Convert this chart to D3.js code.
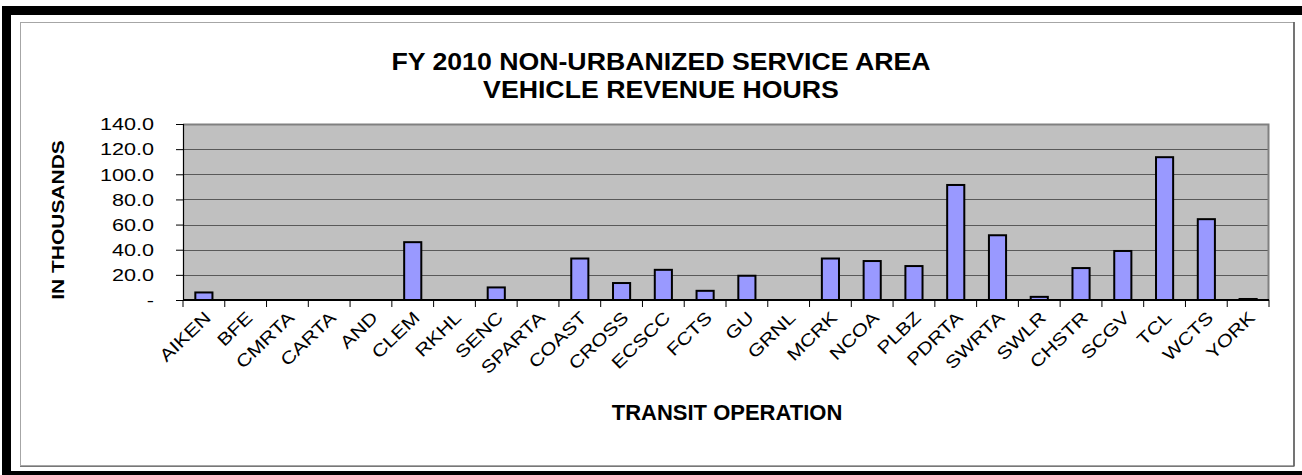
<!DOCTYPE html>
<html>
<head>
<meta charset="utf-8">
<script src="https://cdn.jsdelivr.net/npm/d3@7"></script>
<style>
  html, body { margin: 0; padding: 0; background: #fff; }
  svg { display: block; }
  text { font-family: "Liberation Sans", Arial, sans-serif; fill: #000; }
</style>
</head>
<body>
<svg id="chart" width="1302" height="475"></svg>
<script>
// ---- data ----
const categories = ["AIKEN","BFE","CMRTA","CARTA","AND","CLEM","RKHL","SENC","SPARTA","COAST",
  "CROSS","ECSCC","FCTS","GU","GRNL","MCRK","NCOA","PLBZ","PDRTA","SWRTA","SWLR","CHSTR",
  "SCGV","TCL","WCTS","YORK"];
const values = [6.0, 0, 0, 0, 0, 46.0, 0, 10.0, 0, 33.0,
  13.5, 24.0, 7.3, 19.3, 0, 33.0, 31.0, 27.0, 91.5, 51.5, 2.5, 25.4,
  39.0, 113.6, 64.3, 0.8];
const yTicks = [0, 20, 40, 60, 80, 100, 120, 140];
const titleLines = ["FY 2010 NON-URBANIZED SERVICE AREA", "VEHICLE REVENUE HOURS"];
const xTitle = "TRANSIT OPERATION";
const yTitle = "IN THOUSANDS";

// ---- layout ----
const W = 1302, H = 475;
const plot = { left: 183, right: 1269, top: 124, bottom: 300 };

const svg = d3.select("#chart");

function stretch(sel, factor) {
  sel.each(function() {
    const n = this.getComputedTextLength();
    d3.select(this).attr("textLength", n * factor).attr("lengthAdjust", "spacingAndGlyphs");
  });
}

svg.append("rect").attr("x", 0).attr("y", 0).attr("width", W).attr("height", H).attr("fill", "#fff");

// outer black frame
svg.append("rect").attr("x", 2).attr("y", 6).attr("width", W - 2).attr("height", 9).attr("fill", "#000");
svg.append("rect").attr("x", 2).attr("y", 6).attr("width", 9).attr("height", H - 6).attr("fill", "#000");
svg.append("rect").attr("x", 2).attr("y", 471).attr("width", W - 2).attr("height", 4).attr("fill", "#000");

// inner chart border
svg.append("rect").attr("x", 20.5).attr("y", 22.5).attr("width", 1273.5).attr("height", 443)
  .attr("fill", "#fff").attr("stroke", "#a6a6a6").attr("stroke-width", 1);
svg.append("line").attr("x1", 1294).attr("x2", 1294).attr("y1", 22).attr("y2", 466)
  .attr("stroke", "#555").attr("stroke-width", 1.5);
svg.append("line").attr("x1", 20).attr("x2", 1294.5).attr("y1", 466.5).attr("y2", 466.5)
  .attr("stroke", "#777").attr("stroke-width", 1);

// scales
const x = d3.scaleBand().domain(categories).range([plot.left, plot.right])
  .paddingInner(0.59).paddingOuter(0.295);
const y = d3.scaleLinear().domain([0, 140]).range([plot.bottom, plot.top]);

// plot area
svg.append("rect").attr("x", plot.left).attr("y", plot.top)
  .attr("width", plot.right - plot.left).attr("height", plot.bottom - plot.top)
  .attr("fill", "#c0c0c0");

// gridlines
svg.append("g").selectAll("line").data(yTicks.filter(d => d > 0 && d < 140)).join("line")
  .attr("x1", plot.left).attr("x2", plot.right)
  .attr("y1", d => Math.round(y(d)) + 0.5).attr("y2", d => Math.round(y(d)) + 0.5)
  .attr("stroke", "#595959").attr("stroke-width", 1);

// plot border top/right
svg.append("path")
  .attr("d", `M${plot.left},${plot.top + 0.5} H${plot.right - 0.5} V${plot.bottom}`)
  .attr("fill", "none").attr("stroke", "#808080").attr("stroke-width", 2);

// bars
svg.append("g").selectAll("rect").data(categories).join("rect")
  .attr("x", d => x(d))
  .attr("y", (d, i) => y(values[i]))
  .attr("width", x.bandwidth())
  .attr("height", (d, i) => y(0) - y(values[i]))
  .attr("fill", "#9999ff")
  .attr("stroke", (d, i) => values[i] > 0 ? "#000" : "none")
  .attr("stroke-width", 2);

// y axis
const yAxis = svg.append("g").attr("transform", `translate(${plot.left},0)`)
  .call(d3.axisLeft(y).tickValues(yTicks).tickSize(7).tickPadding(0)
    .tickFormat(d => d === 0 ? "-" : d3.format(".1f")(d)));
yAxis.select(".domain").attr("stroke", "#000").attr("stroke-width", 1.2);
yAxis.selectAll(".tick line").attr("stroke", "#000");
yAxis.selectAll(".tick text").attr("x", -29).attr("dy", "0.36em")
  .style("font-size", "16px").attr("text-anchor", "end");
stretch(yAxis.selectAll(".tick text"), 1.35);

// x axis
const step = x.step();
const xAxis = svg.append("g").attr("transform", `translate(0,${plot.bottom})`)
  .call(d3.axisBottom(x).tickSize(0).tickPadding(0));
xAxis.select(".domain").remove();
svg.append("line").attr("x1", plot.left).attr("x2", plot.right)
  .attr("y1", plot.bottom).attr("y2", plot.bottom).attr("stroke", "#000").attr("stroke-width", 2);
svg.append("g").selectAll("line").data(d3.range(categories.length + 1)).join("line")
  .attr("x1", i => plot.left + i * step).attr("x2", i => plot.left + i * step)
  .attr("y1", plot.bottom).attr("y2", plot.bottom + 7)
  .attr("stroke", "#000").attr("stroke-width", 1);
xAxis.selectAll(".tick text")
  .attr("text-anchor", "end")
  .attr("transform", "translate(8,19) rotate(-44)")
  .attr("y", 0).attr("dy", 0)
  .style("font-size", "17.5px");
stretch(xAxis.selectAll(".tick text"), 1.2);

// titles
const tg = svg.append("g");
titleLines.forEach((t, i) => {
  const el = tg.append("text").attr("x", 661).attr("y", i === 0 ? 69.5 : 98)
    .attr("text-anchor", "middle").style("font-size", "23px").style("font-weight", "bold").text(t);
  stretch(el, 1.16);
});

svg.append("text").attr("x", 727).attr("y", 420).attr("text-anchor", "middle")
  .style("font-size", "22px").style("font-weight", "bold").text(xTitle);

const yt = svg.append("text").attr("transform", `translate(63.5,220) rotate(-90)`)
  .attr("text-anchor", "middle").style("font-size", "16.5px").style("font-weight", "bold").text(yTitle);
stretch(yt, 1.27);
</script>
</body>
</html>
